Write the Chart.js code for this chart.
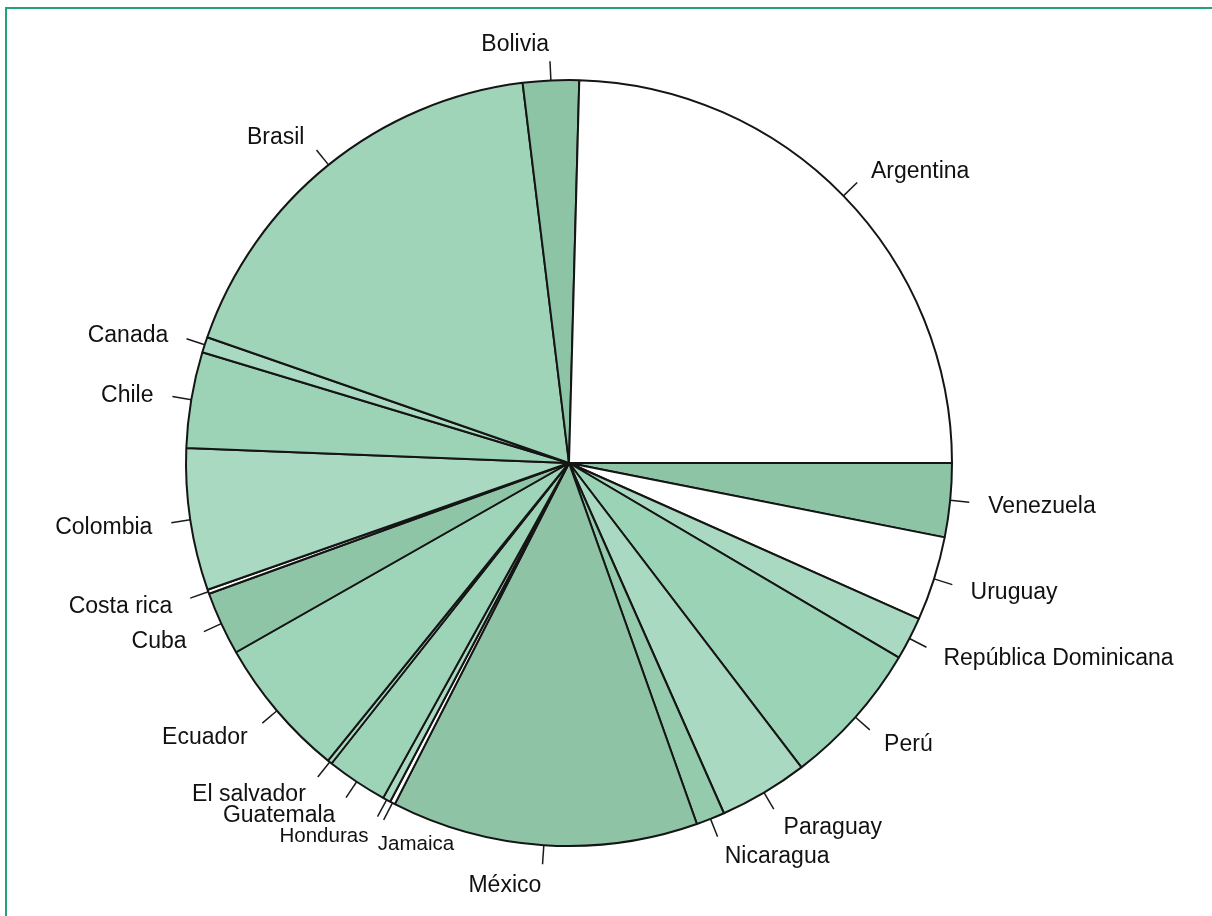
<!DOCTYPE html>
<html>
<head>
<meta charset="utf-8">
<script src="https://cdn.jsdelivr.net/npm/chart.js@4"></script>
<style>
  html, body { margin: 0; padding: 0; background: #ffffff; }
  #wrap { position: relative; width: 1212px; height: 916px; overflow: hidden; }
  #frame { position: absolute; left: 5px; top: 7px; width: 1300px; height: 1000px;
           border-top: 2px solid #23a07c; border-left: 2px solid #23a07c; box-sizing: border-box; }
  canvas { position: absolute; left: 0; top: 0; }
</style>
</head>
<body>
<div id="wrap">
  <div id="frame"></div>
  <canvas id="c" width="1212" height="916"></canvas>
</div>
<script>
// Categories in the original (counter-clockwise from 3 o'clock) order
const countries = ["Argentina", "Bolivia", "Brasil", "Canada", "Chile", "Colombia", "Costa rica",
  "Cuba", "Ecuador", "El salvador", "Guatemala", "Honduras", "Jamaica", "México", "Nicaragua",
  "Paraguay", "Perú", "República Dominicana", "Uruguay", "Venezuela"];
// Estimated share (%) of each slice
const shares = [24.57, 2.36, 17.74, 0.66, 4.04, 5.99, 0.18, 2.68, 5.94, 0.19, 2.58, 0.33, 0.22,
  12.93, 1.21, 3.75, 6.14, 1.81, 3.56, 3.11];
const sliceColors = ["#ffffff", "#8ec4a6", "#9fd4b9", "#a9d9c0", "#9cd2b6", "#a9d9c0", "#ffffff",
  "#8fc5a7", "#9ed4b8", "#a9d9c0", "#9dd3b7", "#a9d9c0", "#ffffff", "#8ec4a5", "#94cbac",
  "#a9d9c0", "#9bd3b6", "#a9d9c0", "#ffffff", "#8ec4a6"];

// Chart.js draws clockwise; reverse so it reads counter-clockwise from 3 o'clock
const labelsR = countries.slice().reverse();
const dataR = shares.slice().reverse();
const colorsR = sliceColors.slice().reverse();

const labelPlugin = {
  id: 'pieLabels',
  afterDatasetsDraw(chart) {
    const ctx = chart.ctx;
    const meta = chart.getDatasetMeta(0);
    const smallFont = { "Honduras": 20.5, "Jamaica": 20.5 };
    ctx.save();
    meta.data.forEach((arc, i) => {
      const p = arc.getProps(['x', 'y', 'startAngle', 'endAngle', 'outerRadius'], true);
      const mid = (p.startAngle + p.endAngle) / 2;
      const c = Math.cos(mid), s = Math.sin(mid);
      const r = p.outerRadius;
      ctx.strokeStyle = '#1a1a1a';
      ctx.lineWidth = 1.5;
      ctx.beginPath();
      ctx.moveTo(p.x + r * c, p.y + r * s);
      ctx.lineTo(p.x + 1.05 * r * c, p.y + 1.05 * r * s);
      ctx.stroke();
      const name = labelsR[i];
      let tx = p.x + 1.1 * r * c, ty = p.y + 1.1 * r * s + 2.5;
      let align = c >= 0 ? 'left' : 'right';
      if (name === 'Jamaica') { align = 'left'; tx += 3; ty += 5; }
      const fs = smallFont[name] || 23;
      ctx.font = fs + 'px "Liberation Sans", Arial, sans-serif';
      ctx.fillStyle = '#111111';
      ctx.textAlign = align;
      ctx.textBaseline = 'middle';
      ctx.fillText(name, tx, ty);
    });
    ctx.restore();
  }
};

new Chart(document.getElementById('c'), {
  type: 'pie',
  data: {
    labels: labelsR,
    datasets: [{
      data: dataR,
      backgroundColor: colorsR,
      borderColor: '#151515',
      borderWidth: 2
    }]
  },
  options: {
    responsive: false,
    devicePixelRatio: 1,
    animation: false,
    events: [],
    rotation: 90,
    radius: 383,
    layout: { padding: { left: 0, right: 74, top: 10, bottom: 0 } },
    plugins: { legend: { display: false }, tooltip: { enabled: false } }
  },
  plugins: [labelPlugin]
});
</script>
</body>
</html>
